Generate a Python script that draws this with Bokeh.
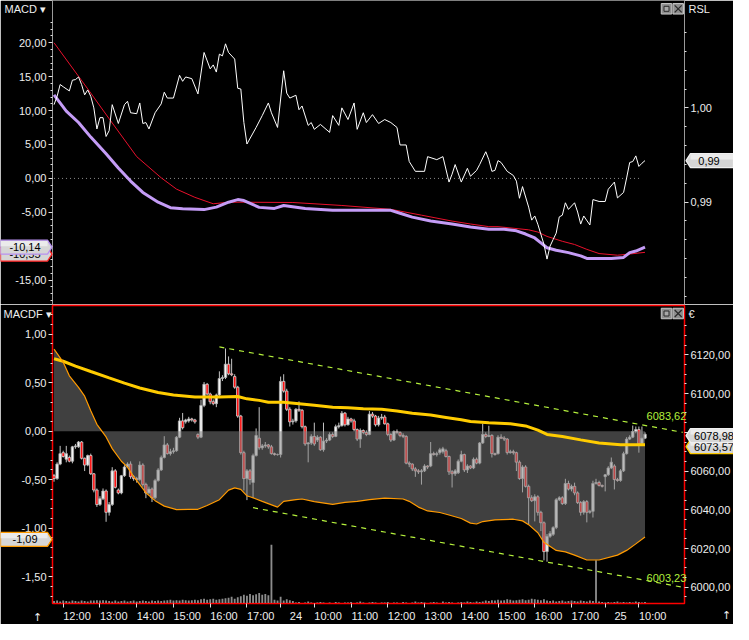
from bokeh.plotting import figure
from bokeh.models import (Range1d, LinearAxis, FixedTicker, CustomJSTickFormatter,
                          ColumnDataSource, GridBox)
from bokeh.core.properties import value
from bokeh.embed import file_html
from bokeh.resources import INLINE

# ------------------------------------------------------------------ data
bar_idx = list(range(194))

opens = [6057.6, 6056.1, 6063.6, 6069.5, 6066.1, 6067.0, 6065.1, 6072.5, 6072.5, 6075.0,
         6066.6, 6063.1, 6068.0, 6058.6, 6050.2, 6042.7, 6045.7, 6049.7, 6038.7, 6042.7,
         6060.1, 6050.2, 6048.7, 6057.6, 6062.1, 6063.6, 6057.1, 6056.1, 6055.6, 6063.1,
         6053.1, 6048.7, 6050.7, 6046.2, 6055.1, 6060.6, 6067.0, 6073.5, 6069.0, 6070.0,
         6070.5, 6077.5, 6085.9, 6085.4, 6085.9, 6086.9, 6086.4, 6078.9, 6077.5, 6093.9,
         6104.8, 6099.8, 6095.8, 6094.8, 6099.3, 6107.8, 6108.3, 6115.2, 6110.2, 6108.8,
         6103.3, 6088.4, 6069.5, 6056.1, 6060.1, 6054.1, 6068.0, 6077.0, 6072.0, 6073.0,
         6073.5, 6072.5, 6069.0, 6068.5, 6068.5, 6106.3, 6101.3, 6091.9, 6085.4, 6085.9,
         6091.9, 6091.4, 6082.9, 6074.0, 6074.5, 6077.9, 6076.0, 6077.5, 6071.0, 6075.5,
         6076.0, 6078.9, 6077.9, 6082.9, 6083.4, 6089.9, 6083.9, 6086.9, 6085.9, 6081.4,
         6076.5, 6080.9, 6079.9, 6078.9, 6089.4, 6088.4, 6083.9, 6087.4, 6087.9, 6084.4,
         6078.9, 6076.0, 6080.4, 6079.9, 6078.4, 6077.9, 6064.1, 6063.6, 6061.1, 6060.1,
         6059.6, 6060.1, 6062.6, 6062.6, 6069.0, 6068.5, 6069.5, 6070.0, 6070.5, 6067.5,
         6059.6, 6058.6, 6059.1, 6065.1, 6068.5, 6060.6, 6062.6, 6061.6, 6066.1, 6064.1,
         6074.5, 6078.9, 6077.9, 6078.4, 6069.0, 6069.0, 6077.5, 6077.0, 6076.5, 6069.5,
         6070.0, 6069.5, 6064.6, 6056.1, 6062.1, 6052.1, 6046.2, 6044.7, 6046.7, 6038.7,
         6033.3, 6018.4, 6026.3, 6027.3, 6030.8, 6045.2, 6046.2, 6043.2, 6053.6, 6050.7,
         6052.1, 6048.7, 6043.7, 6038.7, 6044.2, 6038.7, 6039.2, 6053.6, 6054.1, 6052.6,
         6057.1, 6058.1, 6061.6, 6062.6, 6055.6, 6055.1, 6060.1, 6069.0, 6076.5, 6077.5,
         6080.4, 6081.4, 6074.0, 6077.0]

highs = [6058.5, 6064.5, 6073.0, 6070.5, 6073.0, 6068.0, 6073.0, 6074.0, 6075.5, 6075.5,
         6067.0, 6068.5, 6069.0, 6059.0, 6051.0, 6047.0, 6051.0, 6050.5, 6044.0, 6062.0,
         6061.0, 6051.0, 6058.0, 6063.0, 6064.5, 6065.0, 6058.0, 6057.0, 6065.0, 6064.0,
         6054.0, 6052.0, 6051.5, 6056.0, 6061.5, 6068.0, 6078.0, 6074.5, 6071.5, 6072.0,
         6078.0, 6087.5, 6090.0, 6087.0, 6088.0, 6087.5, 6087.0, 6079.5, 6096.8, 6106.0,
         6105.5, 6100.5, 6097.0, 6100.0, 6111.5, 6109.5, 6123.3, 6119.2, 6118.0, 6110.0,
         6104.0, 6089.0, 6070.5, 6061.0, 6061.0, 6069.0, 6082.0, 6093.0, 6074.0, 6075.0,
         6074.0, 6073.5, 6069.5, 6069.0, 6108.8, 6110.0, 6102.5, 6093.0, 6087.0, 6092.5,
         6096.0, 6092.0, 6083.5, 6075.0, 6079.0, 6085.0, 6078.5, 6078.0, 6085.0, 6077.0,
         6080.0, 6080.0, 6084.0, 6085.0, 6091.0, 6090.5, 6088.0, 6087.5, 6087.0, 6082.0,
         6082.0, 6081.5, 6081.0, 6091.0, 6090.5, 6089.0, 6088.5, 6089.5, 6089.0, 6085.0,
         6079.5, 6081.0, 6081.5, 6080.5, 6079.5, 6078.5, 6065.0, 6064.0, 6062.0, 6061.0,
         6061.0, 6063.5, 6063.0, 6075.0, 6070.0, 6070.0, 6072.0, 6072.5, 6071.5, 6068.0,
         6060.5, 6061.0, 6066.0, 6070.5, 6069.0, 6063.5, 6063.0, 6067.0, 6067.0, 6075.0,
         6084.4, 6080.0, 6083.4, 6079.0, 6069.5, 6078.5, 6079.0, 6078.0, 6077.0, 6071.0,
         6071.0, 6070.0, 6065.5, 6063.0, 6063.0, 6053.0, 6047.5, 6048.0, 6047.5, 6039.5,
         6034.0, 6027.5, 6029.0, 6031.5, 6046.0, 6047.0, 6047.0, 6056.0, 6055.0, 6053.0,
         6054.0, 6049.5, 6044.5, 6045.0, 6045.0, 6040.0, 6055.0, 6056.0, 6055.0, 6053.0,
         6058.5, 6062.5, 6067.0, 6063.5, 6056.5, 6061.0, 6070.0, 6077.5, 6078.5, 6083.5,
         6083.0, 6083.0, 6083.0, 6080.0]

lows = [6054.5, 6055.5, 6063.0, 6067.0, 6064.5, 6064.5, 6064.0, 6071.5, 6072.0, 6066.0,
        6060.0, 6062.5, 6058.0, 6049.0, 6041.5, 6042.0, 6045.0, 6033.8, 6037.0, 6042.0,
        6051.0, 6048.0, 6048.0, 6057.0, 6061.5, 6056.0, 6055.0, 6054.0, 6055.0, 6052.0,
        6046.0, 6048.0, 6044.0, 6045.5, 6054.5, 6060.0, 6066.5, 6068.5, 6068.0, 6069.0,
        6070.0, 6077.0, 6081.5, 6084.5, 6085.0, 6085.5, 6084.5, 6076.5, 6077.0, 6093.0,
        6099.0, 6094.5, 6094.0, 6093.0, 6098.5, 6106.5, 6107.5, 6109.5, 6109.0, 6102.5,
        6087.5, 6068.5, 6050.0, 6045.0, 6053.0, 6046.0, 6067.5, 6071.0, 6071.0, 6072.0,
        6071.5, 6068.5, 6068.0, 6068.0, 6067.0, 6100.5, 6091.0, 6083.0, 6084.0, 6085.0,
        6090.5, 6082.0, 6073.0, 6064.5, 6073.5, 6073.0, 6075.0, 6070.5, 6070.0, 6074.5,
        6075.5, 6077.0, 6077.5, 6082.0, 6083.0, 6083.0, 6083.5, 6085.0, 6080.5, 6075.5,
        6072.0, 6079.0, 6078.0, 6078.5, 6087.5, 6083.0, 6083.0, 6086.5, 6084.0, 6078.0,
        6075.0, 6075.5, 6079.0, 6077.5, 6077.0, 6063.5, 6062.0, 6060.0, 6057.0, 6058.5,
        6053.0, 6059.5, 6061.0, 6062.0, 6068.0, 6067.5, 6068.5, 6069.0, 6067.0, 6058.0,
        6051.5, 6057.5, 6058.5, 6064.5, 6059.5, 6059.0, 6061.0, 6061.0, 6063.5, 6063.5,
        6074.0, 6077.0, 6077.5, 6067.0, 6068.0, 6068.5, 6076.5, 6075.5, 6068.5, 6069.0,
        6068.5, 6060.0, 6055.5, 6049.0, 6051.5, 6032.5, 6044.0, 6034.0, 6037.0, 6029.0,
        6013.9, 6013.2, 6025.5, 6026.5, 6030.0, 6044.5, 6042.5, 6042.5, 6050.0, 6049.5,
        6047.5, 6043.0, 6037.0, 6037.5, 6033.5, 6038.0, 6036.0, 6053.0, 6052.0, 6051.5,
        6049.5, 6057.5, 6061.0, 6050.5, 6054.5, 6054.5, 6059.5, 6068.5, 6076.0, 6077.0,
        6079.5, 6069.5, 6073.5, 6076.5]

closes = [6056.1, 6063.6, 6069.0, 6067.5, 6069.0, 6065.1, 6072.5, 6073.0, 6075.0, 6066.6,
          6063.1, 6068.0, 6058.6, 6050.2, 6042.7, 6045.7, 6049.7, 6038.7, 6042.7, 6060.1,
          6051.6, 6048.7, 6057.6, 6062.1, 6063.6, 6057.1, 6056.1, 6055.6, 6063.1, 6053.1,
          6048.7, 6050.7, 6046.2, 6055.1, 6060.6, 6067.0, 6073.5, 6069.0, 6070.0, 6070.5,
          6077.5, 6085.9, 6082.4, 6086.4, 6086.9, 6086.4, 6085.4, 6077.5, 6093.9, 6104.8,
          6099.8, 6095.8, 6094.8, 6099.3, 6107.8, 6108.3, 6115.2, 6110.2, 6109.7, 6103.3,
          6088.4, 6069.5, 6056.1, 6060.1, 6055.6, 6068.0, 6078.4, 6072.0, 6073.0, 6073.5,
          6072.5, 6069.0, 6068.5, 6068.5, 6106.3, 6101.3, 6091.9, 6085.4, 6085.9, 6091.9,
          6091.4, 6082.9, 6074.0, 6074.5, 6077.9, 6074.0, 6077.5, 6071.0, 6075.5, 6076.0,
          6078.9, 6077.9, 6082.9, 6083.4, 6089.9, 6083.9, 6086.9, 6085.9, 6081.4, 6076.5,
          6080.9, 6079.9, 6078.9, 6089.4, 6088.4, 6083.9, 6087.4, 6087.9, 6084.4, 6078.9,
          6076.0, 6080.4, 6079.9, 6078.4, 6077.9, 6064.1, 6063.6, 6061.1, 6060.1, 6059.6,
          6060.1, 6062.6, 6062.1, 6069.0, 6068.5, 6069.0, 6071.0, 6071.5, 6067.5, 6059.6,
          6058.6, 6060.1, 6065.1, 6068.5, 6060.6, 6062.6, 6061.6, 6066.1, 6064.1, 6074.5,
          6078.9, 6077.9, 6078.4, 6069.0, 6068.5, 6077.5, 6077.0, 6076.5, 6069.5, 6070.0,
          6069.5, 6064.6, 6056.1, 6062.1, 6052.1, 6046.2, 6044.7, 6046.7, 6038.7, 6033.3,
          6018.4, 6026.3, 6027.8, 6030.8, 6045.2, 6046.2, 6043.2, 6053.6, 6050.7, 6052.1,
          6048.7, 6043.7, 6038.7, 6044.2, 6038.7, 6039.2, 6053.6, 6054.1, 6052.6, 6052.1,
          6058.1, 6061.6, 6064.6, 6055.6, 6055.1, 6060.1, 6069.0, 6076.5, 6077.5, 6080.4,
          6081.4, 6074.0, 6077.0, 6078.98]

volume = [25, 30, 20, 30, 25, 20, 30, 25, 20, 30, 25, 20, 30,
          30, 35, 30, 35, 30,
          25, 20, 30, 20, 25, 30, 20, 25, 30, 20, 25, 30, 25, 20, 30, 25, 30, 25,
          30, 35, 40, 30, 35, 30, 40, 35, 30, 35,
          40, 35, 45, 50, 40, 45, 50, 40, 45, 50,
          55, 60, 70, 50, 65, 75, 90, 80, 100, 85, 95, 110,
          90, 100, 85,
          610,
          40, 30, 70, 30, 45, 35, 25,
          10, 15, 5, 10, 20, 10, 5, 10, 15, 10, 5, 10, 5, 15, 10, 5, 10, 10, 15, 5,
          10, 20, 10, 5, 10, 15, 10, 5, 10, 10, 15, 5, 10, 10, 5, 15, 10, 5, 10, 20,
          10, 15, 10, 5, 10, 15, 10, 5, 20, 10, 15, 10, 5, 10, 15, 10, 20, 15, 10, 20,
          15, 20,
          30, 25, 35, 30, 40, 30, 35, 45, 40, 30, 35, 40, 45, 35, 40, 50, 45, 40, 35, 45,
          30, 25, 30, 20, 25, 30, 20, 25, 30, 25, 20, 30, 25, 20, 30, 25,
          450,
          20, 15, 10, 15, 10, 15, 20, 10, 15, 10, 15, 10, 20, 15, 10, 15]

# MACDF oscillator (orange) and its zero-fill
osc_idx = [0, 3, 5, 8, 10, 12, 14, 17, 19, 22, 24, 26, 28, 30, 33, 36, 40, 44, 47, 50,
           54, 57, 59, 61, 63, 64, 66, 68, 73, 75, 79, 81, 85, 91, 95, 99, 103, 108, 114, 116,
           119, 122, 126, 129, 133, 136, 138, 140, 144, 150, 153, 155, 158, 160, 164, 167, 170, 174, 178, 184,
           187, 190, 193]
osc_val = [0.845, 0.710, 0.570, 0.450, 0.360, 0.210, 0.070, -0.060, -0.180, -0.310,
           -0.370, -0.468, -0.550, -0.634, -0.716, -0.772, -0.808, -0.805, -0.805, -0.765,
           -0.706, -0.607, -0.584, -0.600, -0.666, -0.676, -0.699, -0.723, -0.782, -0.723,
           -0.706, -0.699, -0.726, -0.755, -0.733, -0.723, -0.706, -0.689, -0.699, -0.723,
           -0.782, -0.822, -0.838, -0.864, -0.900, -0.947, -0.956, -0.931, -0.914, -0.907,
           -0.924, -0.963, -1.046, -1.145, -1.228, -1.244, -1.277, -1.327, -1.327, -1.277,
           -1.228, -1.161, -1.090]

# moving average of price (yellow)
ma_idx = [0, 3, 7, 12, 18, 23, 28, 34, 39, 46, 54, 60, 63, 67, 70, 75, 80, 85, 91, 96,
          101, 107, 112, 117, 123, 128, 133, 136, 142, 149, 154, 158, 161, 166, 172, 178, 185, 193]
ma_val = [6118.0, 6116.7, 6114.2, 6111.4, 6108.1, 6105.4, 6102.9, 6100.6, 6099.3, 6098.2,
          6098.2, 6098.5, 6097.3, 6096.5, 6095.5, 6095.5, 6094.8, 6094.0, 6093.0, 6092.7,
          6092.2, 6091.9, 6091.0, 6089.9, 6088.9, 6087.7, 6086.5, 6085.6, 6084.9, 6084.4,
          6083.3, 6081.1, 6078.9, 6077.8, 6076.1, 6074.5, 6073.6, 6073.57]

# trend channel (lime dashed)
chan_hi_idx = [54, 205.3]
chan_hi_val = [6124.1, 6080.0]
chan_lo_idx = [65, 205.3]
chan_lo_val = [6041.1, 6000.0]

# top panel: MACD (purple), signal (red), RSL (white, right axis)
macd_idx = [0, 4, 8, 12, 17, 21, 25, 29, 34, 38, 42, 49, 53, 57, 60, 62, 67, 72, 75, 82,
            91, 110, 113, 117, 123, 130, 136, 142, 147, 151, 154, 157, 159, 161, 164, 168, 172, 174, 178, 182,
            186, 188, 190, 193]
macd_val = [12.32, 9.93, 8.24, 6.09, 3.64, 1.53, -0.39, -2.07, -3.51, -4.32,
            -4.46, -4.60, -4.23, -3.51, -3.12, -3.27, -4.27, -4.42, -3.99, -4.42,
            -4.71, -4.71, -5.14, -5.71, -6.29, -6.73, -7.15, -7.48, -7.48, -7.73,
            -8.20, -8.78, -9.50, -10.22, -10.60, -10.94, -11.42, -11.80, -11.80, -11.80,
            -11.65, -10.94, -10.71, -10.14]

sig_idx = [0, 11, 18, 27, 35, 40, 46, 52, 57, 62, 78, 94, 110, 120, 130, 136, 142, 145, 155, 158,
           161, 166, 170, 174, 178, 184, 187, 193]
sig_val = [20.0, 13.2, 8.8, 3.21, 0.09, -1.58, -2.79, -3.74, -3.51, -3.51,
           -3.55, -3.99, -4.56, -5.42, -6.29, -6.72, -7.11, -7.11, -7.58, -7.91,
           -8.55, -9.27, -9.74, -10.46, -11.08, -11.32, -11.2, -10.9]

rsl_idx = [0, 1, 2, 3, 5, 6, 7, 8, 9, 10,
           11, 12, 13, 14, 15, 16, 17, 18, 19, 21,
           23, 24, 25, 27, 28, 29, 30, 31, 33, 35,
           36, 37, 39, 41, 42, 43, 45, 47, 49, 51,
           52, 53, 54, 55, 56, 57, 59, 60, 61, 62,
           63, 66, 68, 70, 71, 73, 75, 76, 77, 79,
           80, 81, 83, 84, 85, 87, 90, 91, 93, 94,
           96, 98, 99, 101, 102, 104, 106, 108, 110, 112,
           113, 115, 116, 118, 121, 122, 125, 127, 129, 130,
           131, 133, 135, 136, 138, 139, 141, 142, 143, 144,
           145, 146, 148, 150, 151, 152, 153, 155, 156, 157,
           158, 160, 161, 162, 163, 164, 165, 166, 167, 168,
           170, 171, 172, 173, 175, 176, 178, 180, 181, 183,
           184, 186, 187, 188, 189, 190, 191, 192, 193]
rsl_val = [1.00017, 1.00061, 1.00124, 1.00112, 1.00090, 1.00147, 1.00150, 1.00164, 1.00124, 1.00069,
           1.00095, 1.00061, 1.00000, 0.99888, 0.99948, 0.99948, 0.99848, 0.99879, 1.00017, 0.99917,
           1.00017, 1.00035, 0.99974, 0.99969, 1.00026, 0.99917, 0.99922, 0.99888, 0.99974, 1.00021,
           1.00083, 1.00052, 1.00052, 1.00173, 1.00141, 1.00164, 1.00155, 1.00074, 1.00294, 1.00207,
           1.00228, 1.00190, 1.00285, 1.00276, 1.00340, 1.00294, 1.00259, 1.00104, 1.00100, 0.99922,
           0.99808, 0.99896, 0.99959, 1.00026, 0.99974, 0.99896, 1.00197, 1.00078, 1.00052, 1.00067,
           0.99990, 1.00010, 0.99907, 0.99922, 0.99886, 0.99912, 0.99870, 0.99959, 0.99907, 1.00000,
           0.99938, 1.00026, 0.99886, 0.99974, 0.99922, 0.99964, 0.99917, 0.99938, 0.99922, 0.99896,
           0.99803, 0.99803, 0.99715, 0.99663, 0.99663, 0.99741, 0.99725, 0.99741, 0.99606, 0.99648,
           0.99699, 0.99606, 0.99679, 0.99637, 0.99668, 0.99699, 0.99767, 0.99725, 0.99663, 0.99668,
           0.99720, 0.99710, 0.99663, 0.99641, 0.99611, 0.99520, 0.99582, 0.99473, 0.99404, 0.99426,
           0.99382, 0.99275, 0.99197, 0.99266, 0.99301, 0.99335, 0.99421, 0.99430, 0.99496, 0.99461,
           0.99496, 0.99447, 0.99383, 0.99426, 0.99378, 0.99513, 0.99503, 0.99503, 0.99568, 0.99606,
           0.99522, 0.99551, 0.99628, 0.99710, 0.99715, 0.99745, 0.99689, 0.99706, 0.99720]

# time axis
tick_idx = [3, 15, 27, 39, 51, 63, 74, 85, 97, 109, 121, 133, 145, 157, 169, 180, 191]
tick_labels = ["12:00", "13:00", "14:00", "15:00", "16:00", "17:00", "24", "10:00", "11:00",
               "12:00", "13:00", "14:00", "15:00", "16:00", "17:00", "25", "10:00"]

# values shown in the tags
tag_macd, tag_signal = "-10,14", "-10,55"
tag_rsl = "0,99"
tag_osc = "-1,09"
tag_close, tag_ma = "6078,98", "6073,57"
chan_hi_last, chan_lo_last = "6083,62", "6003,23"
rsl_last = 0.99720

# ------------------------------------------------------------------ geometry / style
FONT = "Liberation Sans"
TXT = "#eeeeee"
LIME = "#b4f03c"
W, LB, RB = 733, 52, 49
H1, H2, XB = 304, 320, 18
FW = W - LB - RB
P2_TOP, P2_H = H1 + 1, H2 - 1 - XB

X_RANGE = (-0.5, 205.9)
R_MACD = (-18.59, 26.23)
R_RSL = (0.98956, 1.00570)
R_OSC = (-1.775, 1.294)
R_PRICE = (5991.6, 6145.5)
R_VOL = (0, 3100)

xr = Range1d(*X_RANGE)
fmt = CustomJSTickFormatter(code="return tick.toFixed(2).replace('.', ',');")


def make_fig(h, yr, **kw):
    p = figure(width=W, height=h, x_range=xr, y_range=Range1d(*yr), output_backend="svg",
               toolbar_location=None, min_border_left=LB, min_border_right=RB,
               background_fill_color="black", border_fill_color="black", title=None, **kw)
    p.xgrid.grid_line_color = None
    p.ygrid.grid_line_color = None
    return p


def style_axis(ax, line_color):
    ax.axis_line_color = line_color
    ax.major_tick_line_color = "#e0e0e0"
    ax.minor_tick_line_color = "#e0e0e0"
    ax.major_tick_in = 0
    ax.major_tick_out = 4
    ax.minor_tick_in = 0
    ax.minor_tick_out = 2
    ax.major_label_text_color = TXT
    ax.major_label_text_font = FONT
    ax.major_label_text_font_size = "11px"
    ax.major_label_standoff = 2


# ------------------------------------------------------------------ top panel
p1 = make_fig(H1, R_MACD, x_axis_location=None, min_border_top=0, min_border_bottom=0,
              outline_line_color=None)
p1.extra_y_ranges = {"rsl": Range1d(*R_RSL)}

ax = p1.yaxis[0]
style_axis(ax, "#9a9a9a")
ax.ticker = FixedTicker(ticks=list(range(-15, 21, 5)),
                        minor_ticks=[v for v in range(-18, 24) if v % 5 != 0])
ax.formatter = fmt

rax = LinearAxis(y_range_name="rsl")
style_axis(rax, "#9a9a9a")
rax.ticker = FixedTicker(ticks=[0.995, 1.0],
                         minor_ticks=[0.990, 0.991, 0.992, 0.993, 0.994, 0.996, 0.997,
                                      0.998, 0.999, 1.001, 1.002, 1.003, 1.004])
rax.formatter = fmt
p1.add_layout(rax, "right")

p1.line([bar_idx[0], bar_idx[-2]], [0, 0], line_color="#8a8a8a", line_dash="1 3", line_width=1)
p1.line(sig_idx, sig_val, line_color="#e8102c", line_width=1)
p1.line(macd_idx, macd_val, line_color="#c49cf6", line_width=3)
p1.line(rsl_idx, rsl_val, y_range_name="rsl", line_color="white", line_width=1)

# ------------------------------------------------------------------ bottom panel
p2 = make_fig(H2, R_OSC, min_border_top=1, min_border_bottom=XB,
              outline_line_color="#ff0000", outline_line_width=1.5)
p2.extra_y_ranges = {"price": Range1d(*R_PRICE), "vol": Range1d(*R_VOL)}

lax = p2.yaxis[0]
style_axis(lax, "#ff0000")
lax.ticker = FixedTicker(ticks=[-1.5, -1.0, -0.5, 0.0, 0.5, 1.0],
                         minor_ticks=[round(v / 10, 1) for v in range(-17, 13) if v % 5 != 0])
lax.formatter = fmt

pax = LinearAxis(y_range_name="price")
style_axis(pax, "#ff0000")
pax.ticker = FixedTicker(ticks=list(range(6000, 6121, 20)),
                         minor_ticks=[v for v in range(5995, 6140, 5) if v % 20 != 0])
pax.formatter = fmt
p2.add_layout(pax, "right")

xax = p2.xaxis[0]
style_axis(xax, "#ff0000")
label_pos = [t + (5.0 if len(s) == 2 else 4.5) for t, s in zip(tick_idx, tick_labels)]
xax.ticker = FixedTicker(ticks=label_pos, minor_ticks=tick_idx)
xax.major_label_overrides = dict(zip(label_pos, tick_labels))
xax.major_tick_line_color = None
xax.minor_tick_out = 4

p2.vbar(x=bar_idx, top=volume, bottom=0, width=0.6, y_range_name="vol",
        fill_color="#8c8c8c", line_color=None)

up = [c >= o for o, c in zip(opens, closes)]
src = ColumnDataSource(dict(
    x=bar_idx, h=highs, l=lows,
    top=[max(o, c) for o, c in zip(opens, closes)],
    bot=[min(o, c) for o, c in zip(opens, closes)],
    fill=["#f6f6f6" if u else "#ff1010" for u in up],
    edge=["#b0b0b0" if u else "#d4d4d4" for u in up],
))
p2.segment(x0="x", y0="l", x1="x", y1="h", source=src, y_range_name="price",
           line_color="#c4c4c4", line_width=1)
p2.vbar(x="x", top="top", bottom="bot", width=0.8, source=src, y_range_name="price",
        fill_color="fill", line_color="edge", line_width=0.8)

# MACDF zero-fill drawn over the candles (dims them as in the reference)
p2.varea(x=osc_idx, y1=0, y2=osc_val, fill_color="#808080", fill_alpha=0.5)

p2.line(ma_idx, ma_val, y_range_name="price", line_color="#ffcc00", line_width=3)
p2.line(osc_idx, osc_val, line_color="#ff9a00", line_width=1.2)
p2.line(chan_hi_idx, chan_hi_val, y_range_name="price", line_color=LIME,
        line_dash="5 5", line_width=1.2)
p2.line(chan_lo_idx, chan_lo_val, y_range_name="price", line_color=LIME,
        line_dash="5 5", line_width=1.2)

# ------------------------------------------------------------------ overlay (margin texts and tags)
HT = H1 + H2
ov = figure(width=W, height=HT, x_range=Range1d(0, W), y_range=Range1d(HT, 0),
            output_backend="svg", toolbar_location=None, min_border=0,
            x_axis_location=None, y_axis_location=None, title=None,
            background_fill_alpha=0, border_fill_alpha=0, outline_line_color=None)
ov.xgrid.grid_line_color = None
ov.ygrid.grid_line_color = None
if "frame_align" in ov.properties():
    ov.frame_align = False


def sx(i):
    return LB + FW * (i - X_RANGE[0]) / (X_RANGE[1] - X_RANGE[0])


def sy_top(v, r):
    return H1 * (r[1] - v) / (r[1] - r[0])


def sy_bot(v, r):
    return P2_TOP + P2_H * (r[1] - v) / (r[1] - r[0])


def txt(x, y, s, color=TXT, align="left", size="11px", font=FONT):
    ov.text(x=[x], y=[y], text=[s], text_font=value(font), text_font_size=size,
            text_color=color, text_align=align, text_baseline="middle")


def left_tag(yc, s, border):
    ov.patch([0, 47, 51.5, 47, 0], [yc - 7, yc - 7, yc, yc + 7, yc + 7],
             fill_color="#d6d6d6", line_color=border, line_width=1.3)
    ov.patch([0, 47, 47, 0], [yc - 6.3, yc - 6.3, yc - 1, yc - 1],
             fill_color="#ebebeb", line_color=None)
    txt(24.5, yc, s, color="#000000", align="center")


def right_tag(yc, s, border, tx):
    ov.patch([W, 690, 685.5, 690, W], [yc - 7, yc - 7, yc, yc + 7, yc + 7],
             fill_color="#d6d6d6", line_color=border, line_width=1.3)
    ov.patch([W, 690, 690, W], [yc - 6.3, yc - 6.3, yc - 1, yc - 1],
             fill_color="#ebebeb", line_color=None)
    txt(tx, yc, s, color="#000000", align="center")


def icons(yc):
    for cx in (666.0, 677.7):
        ov.rect(x=[cx], y=[yc], width=10.5, height=10.5, fill_color="#8e8e8e",
                line_color="#c8c8c8", line_width=1)
    ov.rect(x=[666.0], y=[yc], width=5, height=5, fill_color="#a8a8a8",
            line_color="#2a2a2a", line_width=1)
    ov.segment(x0=[674.2, 674.2], y0=[yc - 3.5, yc + 3.5], x1=[681.2, 681.2],
               y1=[yc + 3.5, yc - 3.5], line_color="#2a2a2a", line_width=1.2)


# headers
txt(4, 8.5, "MACD \u25be")
txt(688, 8.5, "RSL")
icons(8.3)
txt(3, 313, "MACDF \u25be")
txt(688, 313, "\u20ac")
icons(313)
txt(37, 617, "\u2191", font="DejaVu Sans", align="center")
txt(726, 615, "\u2191", font="DejaVu Sans", align="center")

# last-value tags
y_macd = sy_top(macd_val[-1], R_MACD)
y_sig = max(sy_top(sig_val[-1], R_MACD), y_macd + 7)
left_tag(y_sig, tag_signal, "#ff2020")
left_tag(y_macd, tag_macd, "#b890f0")
right_tag(sy_top(rsl_last, R_RSL), tag_rsl, "#f0f0f0", 708.5)
left_tag(sy_bot(osc_val[-1], R_OSC), tag_osc, "#ff9a00")
right_tag(sy_bot(ma_val[-1], R_PRICE) + 0.5, tag_ma, "#ffcc00", 713.5)
right_tag(sy_bot(closes[-1], R_PRICE), tag_close, "#f0f0f0", 713.5)

# channel end labels
x_lab = sx(193.5)
txt(x_lab, sy_bot(6083.62, R_PRICE) - 11, chan_hi_last, color=LIME)
txt(x_lab, sy_bot(6003.23, R_PRICE) - 6, chan_lo_last, color=LIME)

layout = GridBox(children=[(p1, 0, 0), (p2, 1, 0), (ov, 0, 0, 2, 1)])
open("out.html", "w").write(file_html(layout, INLINE))
